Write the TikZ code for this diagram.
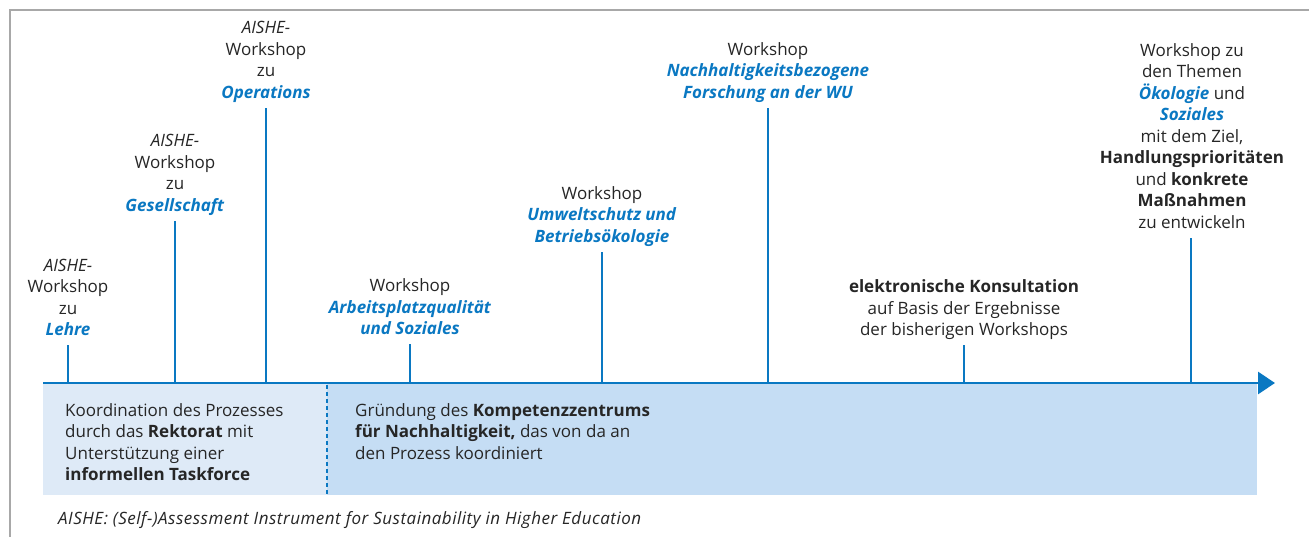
\documentclass[tikz,border=0pt]{standalone}
\usepackage{fontspec}
\setmainfont{Open Sans}
\usetikzlibrary{arrows.meta}
\definecolor{wublue}{HTML}{0A78C2}
\definecolor{lightbox}{HTML}{DEEAF7}
\definecolor{darkbox}{HTML}{C5DDF4}
\definecolor{framegray}{HTML}{A8A8A8}
\newcommand{\hl}[1]{\textcolor{wublue}{\textbf{\textit{#1}}}}
\tikzset{
  lbl/.style={align=center, anchor=south, inner sep=0pt, outer sep=0pt, font=\fontsize{17}{21.5}\selectfont, text=black!85},
  tickline/.style={draw=wublue, line width=2.6pt},
  boxtxt/.style={align=left, anchor=north west, inner sep=0pt, font=\fontsize{17}{21.5}\selectfont, text=black!85},
}
\begin{document}
\begin{tikzpicture}[x=1pt,y=-1pt]
\useasboundingbox (0,0) rectangle (1309,537);
\fill[white] (0,0) rectangle (1309,537);
% frame
\draw[framegray, line width=1.6pt] (10,537) -- (10,10) -- (1309,10);
% boxes
\fill[lightbox] (43,383) rectangle (327,495);
\fill[darkbox] (327,383) rectangle (1257,495);
\draw[wublue, line width=1.6pt, dash pattern=on 4pt off 3pt] (327,385) -- (327,495);
% axis
\coordinate (a0) at (43,383);
\coordinate (a1) at (1275,383);
\draw[wublue, line width=2.8pt, -{Triangle[length=17pt,width=22pt]}] (a0) -- (a1);
% tick base coordinates
\coordinate (t1) at (68,383);
\coordinate (t2) at (175,383);
\coordinate (t3) at (266,383);
\coordinate (t4) at (410,383);
\coordinate (t5) at (602,383);
\coordinate (t6) at (768,383);
\coordinate (t7) at (964,383);
\coordinate (t8) at (1191,383);
% labels
\node[lbl] (l1) at (68,345) {\textit{AISHE-}\\Workshop\\zu\\\hl{Lehre}\\[-12pt]\mbox{}};
\node[lbl] (l2) at (175,221) {\textit{AISHE-}\\Workshop\\zu\\\hl{Gesellschaft}\\[-12pt]\mbox{}};
\node[lbl] (l3) at (266,108) {\textit{AISHE-}\\Workshop\\zu\\\hl{Operations}\\[-12pt]\mbox{}};
\node[lbl] (l4) at (410,344) {Workshop\\\hl{Arbeitsplatzqualität}\\\hl{und Soziales}\\[-12pt]\mbox{}};
\node[lbl] (l5) at (602,252) {Workshop\\\hl{Umweltschutz und}\\\hl{Betriebsökologie}\\[-12pt]\mbox{}};
\node[lbl] (l6) at (768,108) {Workshop\\\hl{Nachhaltigkeitsbezogene}\\\hl{Forschung an der WU}\\[-12pt]\mbox{}};
\node[lbl] (l7) at (964,345) {\textbf{elektronische Konsultation}\\auf Basis der Ergebnisse\\der bisherigen Workshops\\[-12pt]\mbox{}};
\node[lbl] (l8) at (1192,238) {Workshop zu\\den Themen\\\hl{Ökologie} und\\\hl{Soziales}\\mit dem Ziel,\\\textbf{Handlungsprioritäten}\\und \textbf{konkrete}\\\textbf{Maßnahmen}\\zu entwickeln\\[-12pt]\mbox{}};
% ticks
\draw[tickline] (t1) -- (t1 |- l1.south);
\draw[tickline] (t2) -- (t2 |- l2.south);
\draw[tickline] (t3) -- (t3 |- l3.south);
\draw[tickline] (t4) -- (t4 |- l4.south);
\draw[tickline] (t5) -- (t5 |- l5.south);
\draw[tickline] (t6) -- (t6 |- l6.south);
\draw[tickline] (t7) -- (t7 |- l7.south);
\draw[tickline] (t8) -- (t8 |- l8.south);
% box texts
\node[boxtxt] (b1) at (65,403) {Koordination des Prozesses\\durch das \textbf{Rektorat} mit\\Unterstützung einer\\\textbf{informellen Taskforce}};
\node[boxtxt] (b2) at (355,403) {Gründung des \textbf{Kompetenzzentrums}\\\textbf{für Nachhaltigkeit,} das von da an\\den Prozess koordiniert};
% footnote
\node[anchor=west, inner sep=0pt, font=\fontsize{17}{20}\selectfont\itshape\addfontfeatures{LetterSpace=3}, text=black!85] (fn) at (58,520) {AISHE: (Self-)Assessment Instrument for Sustainability in Higher Education};
\end{tikzpicture}
\end{document}
